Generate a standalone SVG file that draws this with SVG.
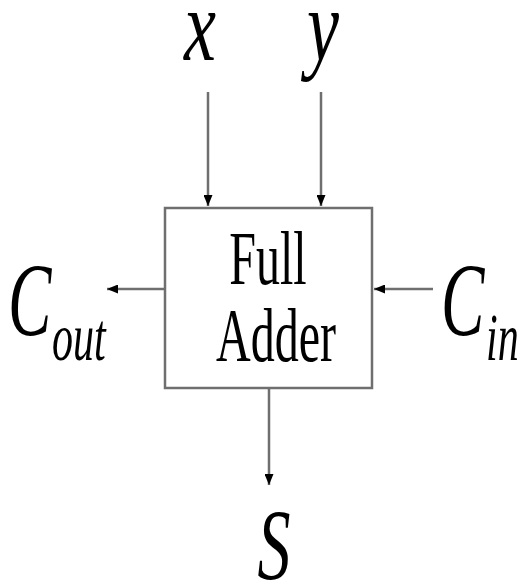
<svg xmlns="http://www.w3.org/2000/svg" width="522" height="587" viewBox="0 0 522 587">
<style>
.ln{stroke:#6f6f6f;stroke-width:2.5;fill:none}
.t{font-family:"Liberation Serif","Times New Roman",serif;fill:#000}
.i{font-style:italic}
</style>
<defs>
<marker id="ah" viewBox="0 0 11 9" refX="11" refY="4.5" markerWidth="4.4" markerHeight="3.6" markerUnits="strokeWidth" orient="auto">
<path d="M0,0 L11,4.5 L0,9 z" fill="#000"/>
</marker>
</defs>
<rect width="522" height="587" fill="#fff"/>
<g id="adder">
<rect x="165" y="208" width="207" height="180" class="ln" stroke-width="3"/>
<text class="t" text-anchor="middle" font-size="48" transform="translate(268,284) scale(1,1.6)">Full</text>
<text class="t" text-anchor="middle" font-size="48" transform="translate(276,361) scale(1,1.6)">Adder</text>
</g>
<g id="x"><text class="t i" text-anchor="middle" font-size="72" transform="translate(200,60) scale(1,1.4)">x</text></g>
<g id="y"><text class="t i" text-anchor="middle" font-size="72" transform="translate(323,60) scale(1,1.4)">y</text></g>
<g id="cout"><text class="t i" font-size="65" transform="translate(8,335) scale(1,1.6)">C</text><text class="t i" font-size="42" transform="translate(52,360) scale(1,1.6)">out</text></g>
<g id="cin"><text class="t i" font-size="65" transform="translate(441,335) scale(1,1.6)">C</text><text class="t i" font-size="42" transform="translate(486,360) scale(1,1.6)">in</text></g>
<g id="s"><text class="t i" text-anchor="middle" font-size="66" transform="translate(274,580) scale(1,1.55)">S</text></g>
<g id="connectors">
<line class="ln" x1="208" y1="92" x2="208" y2="206" marker-end="url(#ah)"/>
<line class="ln" x1="321" y1="92" x2="321" y2="206" marker-end="url(#ah)"/>
<line class="ln" x1="165" y1="289" x2="107" y2="289" marker-end="url(#ah)"/>
<line class="ln" x1="433" y1="289" x2="374" y2="289" marker-end="url(#ah)"/>
<line class="ln" x1="269" y1="388" x2="269" y2="485" marker-end="url(#ah)"/>
</g>
</svg>
